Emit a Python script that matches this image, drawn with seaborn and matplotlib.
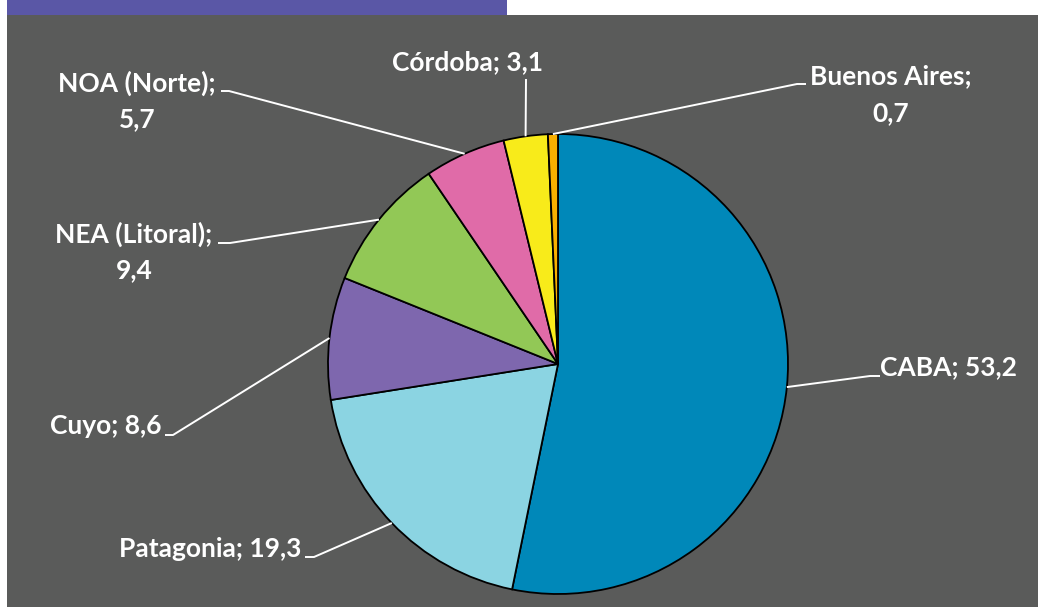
import matplotlib
matplotlib.use("Agg")
import matplotlib.pyplot as plt
import seaborn as sns
import numpy as np
from matplotlib.patches import Rectangle

# ---- data ----
regions = ["CABA", "Patagonia", "Cuyo", "NEA (Litoral)", "NOA (Norte)", "Córdoba", "Buenos Aires"]
values = [53.2, 19.3, 8.6, 9.4, 5.7, 3.1, 0.7]
colors = ["#0088B9", "#8BD4E2", "#7E67AE", "#92C856", "#E06BA8", "#F8EB1A", "#F9B000"]
two_line = [False, False, False, True, True, False, True]

sns.set_theme(style="white")
plt.rcParams["font.family"] = ["Lato", "DejaVu Sans"]

W, H = 1043, 607
fig = plt.figure(figsize=(W / 100, H / 100), dpi=100)
fig.patch.set_facecolor("white")
ax = fig.add_axes([0, 0, 1, 1])
ax.set_axis_off()

def Y(py):
    return H - py

# background panels
ax.add_patch(Rectangle((7, 0), 1031, Y(15), facecolor="#5A5B5A", edgecolor="none", zorder=0))
ax.add_patch(Rectangle((7, Y(15)), 500, 15, facecolor="#5A57A6", edgecolor="none", zorder=0))

cx, cy, R = 558, Y(364), 230
wedges, _ = ax.pie(values, colors=colors, startangle=90, counterclock=False,
                   center=(cx, cy), radius=R,
                   wedgeprops=dict(edgecolor="black", linewidth=1.3))
ax.set_xlim(0, W)
ax.set_ylim(0, H)
ax.set_aspect("equal")

# label layout: (x, ha, baselines in px), leader path points (px) ending at wedge
layout = [
    dict(x=880, ha="left", base=[375], path=[(880, 376), (870, 376)]),
    dict(x=301, ha="right", base=[557], path=[(305, 557), (314, 557)]),
    dict(x=161, ha="right", base=[434], path=[(165, 435), (173, 435)]),
    dict(x=134, ha="center", base=[243, 278], path=[(218, 243), (230, 243)]),
    dict(x=137, ha="center", base=[92, 127], path=[(221, 91), (229, 91)]),
    dict(x=467, ha="center", base=[70], path=[(526, 79)]),
    dict(x=891, ha="center", base=[84, 121], path=[(806, 84), (797, 84)]),
]

for w, name, val, tl, lay in zip(wedges, regions, values, two_line, layout):
    num = f"{val:.1f}".replace(".", ",")
    lines = [f"{name};", num] if tl else [f"{name}; {num}"]
    for txt, b in zip(lines, lay["base"]):
        ax.text(lay["x"], Y(b), txt, ha=lay["ha"], va="baseline", color="white",
                fontsize=19, fontweight="bold", zorder=5)
    ang = np.deg2rad((w.theta1 + w.theta2) / 2)
    ex, ey = cx + R * np.cos(ang), cy + R * np.sin(ang)
    xs = [p[0] for p in lay["path"]] + [ex]
    ys = [Y(p[1]) for p in lay["path"]] + [ey]
    ax.plot(xs, ys, color="white", linewidth=1.4, zorder=4, solid_capstyle="butt")

fig.savefig("out.png", dpi=100, facecolor=fig.get_facecolor())
